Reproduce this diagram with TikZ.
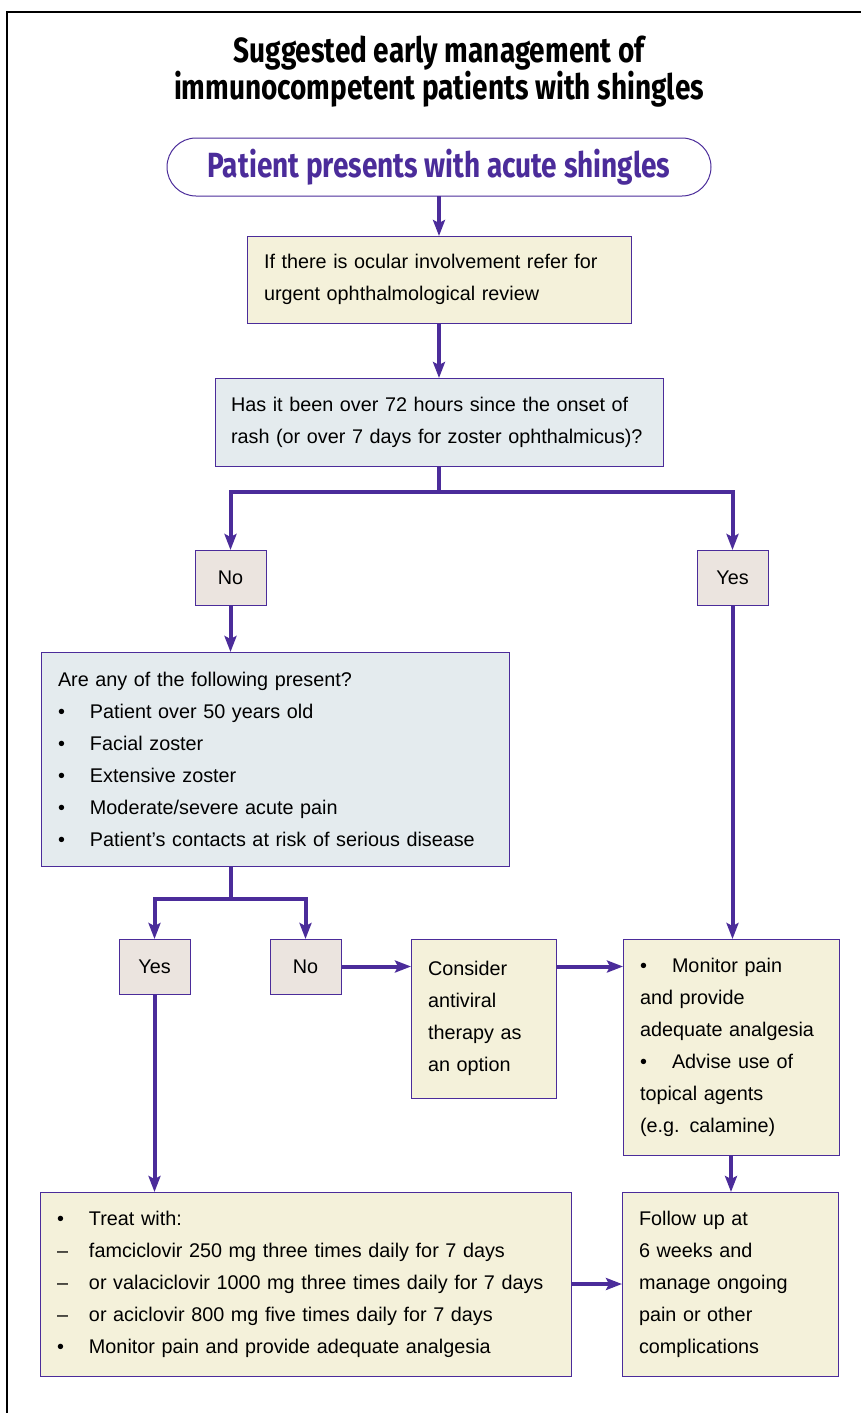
\documentclass[tikz,border=0pt]{standalone}
\usepackage{fontspec}
\setmainfont{Liberation Sans}
\newfontfamily\headfont[FakeStretch=0.8]{Fira Sans}
\usetikzlibrary{positioning, arrows.meta}

\definecolor{vio}{RGB}{75,44,154}
\definecolor{cream}{RGB}{244,241,218}
\definecolor{mist}{RGB}{228,235,238}
\definecolor{sand}{RGB}{235,228,223}

\newcommand{\bodyfont}{\fontsize{19.8}{32}\selectfont}
\newcommand{\bul}{\makebox[32pt][l]{\textbullet}}
\newcommand{\dsh}{\makebox[32pt][l]{--}}

\tikzset{
    box/.style={draw=vio, line width=1pt, inner xsep=17pt, inner ysep=0pt,
        outer sep=0pt, anchor=north west, align=left, font=\bodyfont},
    choicebox/.style={draw=vio, line width=1pt, fill=sand, inner sep=0pt,
        outer sep=0pt, anchor=north west, minimum width=71pt,
        minimum height=55pt, font=\bodyfont},
    link/.style={draw=vio, line width=4pt},
    flow/.style={link, -{Stealth[length=16pt, width=12pt, inset=3pt]}},
}

\begin{document}
\begin{tikzpicture}[x=1pt, y=-1pt]
    \useasboundingbox (0,0) rectangle (861,1413);
    \draw[line width=1.2pt] (7,1413) -- (7,12) -- (861,12);

    \node[align=center, font=\headfont\bfseries\fontsize{35}{30}\selectfont]
        (title) at (439,72) {Suggested early management of\\immunocompetent patients with shingles};
    \node[draw=vio, line width=1pt, fill=white, rounded corners=29pt, outer sep=0pt,
        minimum width=544pt, minimum height=58pt, text=vio,
        font=\headfont\bfseries\fontsize{35}{30}\selectfont]
        (start) at (439,167) {Patient presents with acute shingles};

    \node[box, fill=cream, text width=350pt, minimum height=87pt] (ocular) at (247,236)
        {If there is ocular involvement refer for\\urgent ophthalmological review};
    \node[box, fill=mist, inner xsep=16pt, text width=416pt, minimum height=88pt] (hours) at (215,378)
        {Has it been over 72 hours since the onset of\\rash (or over 7 days for zoster ophthalmicus)?};

    \node[choicebox] (no1)  at (195,550) {No};
    \node[choicebox] (yes1) at (697,550) {Yes};

    \node[box, fill=mist, text width=434pt, minimum height=214pt] (risk) at (41,652)
        {Are any of the following present?\\
         \bul Patient over 50 years old\\
         \bul Facial zoster\\
         \bul Extensive zoster\\
         \bul Moderate/severe acute pain\\
         \bul Patient’s contacts at risk of serious disease};

    \node[choicebox] (yes2) at (119,939) {Yes};
    \node[choicebox] (no2)  at (270,939) {No};

    \node[box, fill=cream, text width=111pt, minimum height=159pt] (consider) at (411,939)
        {Consider\\antiviral\\therapy as\\an option};
    \node[box, fill=cream, text width=182pt, minimum height=216pt] (monitor) at (623,939)
        {\bul Monitor pain\\and provide\\adequate analgesia\\\bul Advise use of\\topical agents\\(e.g. calamine)};

    \node[box, fill=cream, text width=497pt, minimum height=184pt] (treat) at (40,1192)
        {\bul Treat with:\\
         \dsh famciclovir 250 mg three times daily for 7 days\\
         \dsh or valaciclovir 1000 mg three times daily for 7 days\\
         \dsh or aciclovir 800 mg five times daily for 7 days\\
         \bul Monitor pain and provide adequate analgesia};
    \node[box, fill=cream, text width=182pt, minimum height=184pt] (follow) at (622,1192)
        {Follow up at\\6 weeks and\\manage ongoing\\pain or other\\complications};

    \coordinate (fork1) at (439,492);
    \coordinate (fork2) at (231,899);

    \draw[flow] (start) -- (ocular);
    \draw[flow] (ocular) -- (hours);
    \draw[link] (hours.south) -- (fork1);
    \draw[flow] (fork1) -| (no1.north);
    \draw[flow] (fork1) -| (yes1.north);
    \draw[flow] (no1) -- (no1.south |- risk.north);
    \draw[link] (fork2 |- risk.south) -- (fork2);
    \draw[flow] (fork2) -| (yes2.north);
    \draw[flow] (fork2) -| (no2.north);
    \draw[flow] (no2.east) -- (consider.west |- no2.east);
    \draw[flow] (consider.east |- no2.east) -- (monitor.west |- no2.east);
    \draw[flow] (yes1.south) -- (yes1.south |- monitor.north);
    \draw[flow] (yes2.south) -- (yes2.south |- treat.north);
    \draw[flow] (monitor.south) -- (monitor.south |- follow.north);
    \draw[flow] (treat.east) -- (follow.west);
\end{tikzpicture}
\end{document}
